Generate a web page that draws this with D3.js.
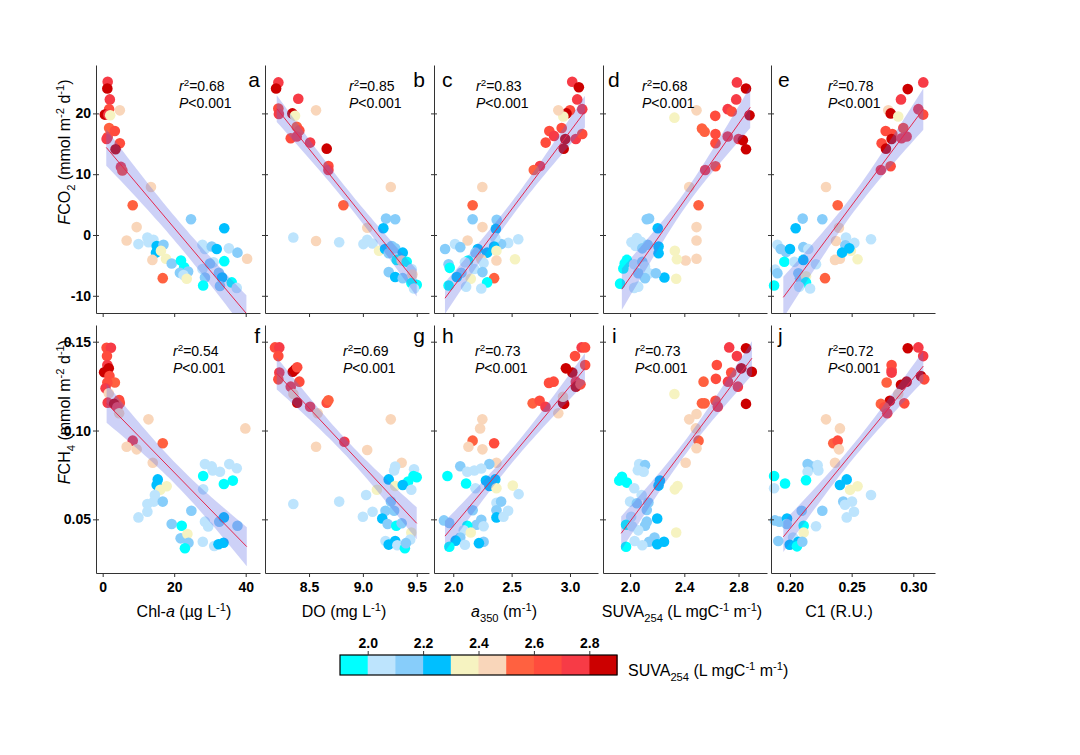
<!DOCTYPE html>
<html><head><meta charset="utf-8">
<script src="https://cdn.jsdelivr.net/npm/d3@7"></script>
<style>
body{margin:0;background:#fff}
text{font-family:Arial,"Liberation Sans",sans-serif;fill:#000}
</style></head>
<body><svg id="chart" width="1080" height="755"></svg>
<script>
// ---------- DATA ----------
// SUVA254 colour bins (1.9-2.9 in steps of 0.1)
const binEdges = [1.9,2.0,2.1,2.2,2.3,2.4,2.5,2.6,2.7,2.8,2.9];
const binColors = ["#00FFFF","#BDE4FD","#87CDFA","#00BFFF","#F6F3C1","#F9D6BA","#FF6140","#FF4C3D","#F73B46","#CC0000"];
const legendTickLabels = ["2.0","2.2","2.4","2.6","2.8"];
const panelLetters = ["a","b","c","d","e","f","g","h","i","j"];
const r2Values = ["0.68","0.85","0.83","0.68","0.78","0.54","0.69","0.73","0.73","0.72"];
const pLabel = "<0.001";
// regression fits
const fitSlope = [-0.697,-22.08,25.6,31.57,272.7,-0.002059,-0.06492,0.07873,0.10218,0.8467];
const fitIntercept = [15.1,201.85,-59.78,-70.12,-63.32,0.1176,0.6645,-0.1113,-0.1555,-0.1246];
const fitRange = [[1.0,40.2],[8.2,9.5],[1.929,3.128],[1.939,2.886],[0.1946,0.3081],
                  [1.1,40.3],[8.2,9.5],[1.929,3.128],[1.934,2.899],[0.1946,0.3081]];
// band half-width [centre, ends] in y units
const bandHW = [[2.0,3.0],[1.2,2.2],[1.2,2.6],[1.3,3.4],[1.5,3.4],
                [0.0060,0.0110],[0.0045,0.0090],[0.0040,0.0085],[0.0040,0.0095],[0.0040,0.0085]];
// axes
const xDomains = [[-1.87,44.0],[8.091,9.614],[1.835,3.24],[1.80,3.01],[0.1846,0.3176]];
const xTicks = [[0,20,40],[8.5,9.0,9.5],[2.0,2.5,3.0],[2.0,2.4,2.8],[0.20,0.25,0.30]];
const xTickLabels = [["0","20","40"],["8.5","9.0","9.5"],["2.0","2.5","3.0"],["2.0","2.4","2.8"],["0.20","0.25","0.30"]];
const yDomainCO2 = [-12.83,27.96];
const yTicksCO2 = [-10,0,10,20];
const yTickLabelsCO2 = ["-10","0","10","20"];
const yDomainCH4 = [0.0198,0.1594];
const yTicksCH4 = [0.05,0.10,0.15];
const yTickLabelsCH4 = ["0.05","0.10","0.15"];

// points [x, y, SUVA bin]
const dataA = [[1.4,25.2,8],[1.3,24.1,9],[2.0,22.3,8],[1.8,20.7,7],[0.6,19.8,9],[1.6,19.8,8],[4.8,20.5,5],[2.1,19.7,4],[1.8,17.6,6],[3.4,17.1,7],[1.4,16.1,7],[1.1,15.8,8],[4.8,15.1,7],[3.6,14.1,9],[5.1,11.2,8],[5.5,10.6,7],
[13.5,7.9,5],[8.4,4.9,6],[9.5,1.3,5],[6.7,-0.9,5],[10.0,-1.5,1],[12.5,-0.4,1],[14.2,-0.8,1],[12.8,-1.2,1],[15.1,-1.8,3],[17.0,-1.6,2],[14.9,-2.9,3],[16.3,-2.6,4],[17.7,-3.9,4],[13.9,-4.1,5],[19.3,-4.7,2],[16.8,-7.1,6],[24.7,2.6,2],[21.9,-4.2,0],[22.8,-5.3,0],[21.6,-6.2,2],[23.9,-6.0,2],[22.6,-6.6,1],[23.5,-7.2,4],[27.9,-1.6,1],[28.6,-2.3,1],[30.5,-1.9,2],[31.9,-2.3,3],[35.3,-2.2,1],[37.7,-2.9,2],[40.4,-3.9,5],[34.0,1.1,3],[34.0,-4.3,0],[27.9,-5.6,1],[31.0,-4.5,1],[30.0,-4.7,2],[28.6,-7.0,2],[28.1,-8.3,0],[32.5,-6.2,2],[33.4,-7.0,3],[36.1,-7.8,0],[32.8,-8.4,2],[37.5,-8.7,1]];
const dataB = [[8.215,25.1,8],[8.194,24.1,9],[8.40,22.4,8],[8.215,20.8,7],[8.22,19.9,8],[8.345,20.0,9],[8.37,19.6,4],[8.565,20.5,5],[8.386,17.8,6],[8.41,17.2,7],[8.33,15.9,7],[8.386,16.2,8],[8.51,15.2,8],[8.664,14.2,9],[8.68,11.35,7],[8.68,10.7,8],[8.819,4.9,6],[9.259,7.9,5],[9.215,2.7,2],[9.30,2.6,2],[9.19,1.1,3],[9.041,1.2,5],[8.354,-0.4,1],[8.565,-1.0,5],[8.78,-1.2,1],[9.005,-1.5,1],[9.04,-0.8,1],[9.09,-1.4,1],[9.15,-2.6,4],[9.206,-2.3,3],[9.268,-1.8,2],[9.30,-2.2,2],[9.24,-3.0,2],[9.37,-2.9,3],[9.314,-4.1,0],[9.36,-4.2,5],[9.407,-4.4,0],[9.453,-5.6,1],[9.24,-6.1,2],[9.30,-6.9,3],[9.37,-7.1,2],[9.46,-6.5,5],[9.45,-7.9,0],[9.50,-8.2,0],[9.475,-8.8,1]];
const dataC = [[3.019,25.2,8],[3.076,24.3,9],[3.062,22.3,8],[3.105,20.7,8],[3.0,20.5,7],[2.97,20.0,9],[2.943,19.5,4],[2.90,20.5,5],[2.823,17.1,7],[2.863,16.3,8],[2.929,17.6,7],[2.792,15.2,7],[2.96,15.8,9],[2.946,14.2,9],[3.05,15.8,8],[3.105,16.6,7],[2.743,11.35,8],[2.69,10.7,6],[2.249,7.9,5],[2.166,4.9,6],[2.166,2.6,2],[2.25,1.3,5],[2.372,2.5,2],[2.365,1.0,3],[2.557,-0.7,1],[2.471,-1.3,1],[2.41,-1.5,2],[2.36,-0.5,1],[2.123,-0.9,5],[2.015,-1.5,1],[2.06,-2.0,2],[1.93,-2.3,2],[2.21,-2.3,3],[2.29,-2.9,3],[2.35,-1.9,3],[2.37,-2.6,4],[2.19,-2.9,2],[2.24,-4.0,5],[2.37,-4.2,5],[2.529,-4.0,4],[2.127,-4.2,0],[2.10,-4.5,1],[1.96,-4.8,2],[1.97,-5.4,0],[2.26,-4.6,1],[2.18,-5.6,1],[2.25,-6.1,2],[2.07,-6.2,2],[2.03,-6.9,3],[2.15,-7.2,4],[2.35,-7.1,6],[2.29,-7.8,0],[1.96,-8.3,0],[2.11,-8.5,1],[2.24,-8.8,1]];
const dataD = [[2.788,25.1,8],[2.855,24.1,9],[2.783,22.3,8],[2.72,20.7,8],[2.75,20.3,7],[2.881,19.7,9],[2.628,19.6,7],[2.49,20.5,5],[2.327,19.3,4],[2.53,17.5,6],[2.55,17.0,6],[2.63,16.6,7],[2.63,15.1,7],[2.72,16.2,8],[2.80,15.8,8],[2.832,15.6,9],[2.855,14.1,9],[2.554,10.7,8],[2.63,11.3,7],[2.436,7.9,5],[2.505,4.9,6],[2.49,1.3,5],[2.49,-0.9,5],[2.49,-3.9,5],[2.41,-4.2,5],[2.345,-4.0,4],[2.33,-2.6,4],[2.34,-7.2,4],[2.123,2.6,2],[2.14,2.7,2],[2.204,1.1,3],[2.21,-1.9,3],[2.21,-3.0,3],[2.253,-7.0,3],[2.049,-0.5,1],[2.01,-1.2,1],[2.08,-1.1,1],[2.04,-1.8,1],[2.09,-2.2,2],[2.13,-1.6,2],[1.976,-4.1,0],[1.96,-4.7,0],[1.95,-5.5,0],[2.03,-4.8,1],[2.09,-4.4,2],[2.11,-5.2,1],[2.06,-6.3,2],[2.14,-6.3,1],[2.19,-6.3,2],[2.11,-7.1,2],[1.926,-8.0,0],[2.03,-8.7,1],[2.06,-8.5,1]];
const dataE = [[0.3081,25.1,8],[0.2955,24.0,9],[0.290,22.3,8],[0.3041,20.7,8],[0.308,19.8,7],[0.2797,20.5,5],[0.2817,20.0,9],[0.2878,19.5,4],[0.2776,17.1,7],[0.283,16.6,7],[0.2743,15.1,7],[0.2824,15.8,9],[0.2919,17.6,7],[0.2905,15.9,8],[0.2946,16.2,8],[0.2778,14.2,9],[0.2737,10.7,8],[0.2816,11.3,7],[0.2292,7.9,5],[0.2387,4.9,6],[0.2397,1.2,5],[0.2373,-1.0,5],[0.2365,-4.1,5],[0.2405,-3.9,5],[0.2494,-2.6,4],[0.2548,-4.0,4],[0.2103,2.7,2],[0.2262,2.6,2],[0.2046,1.1,3],[0.2454,-0.4,1],[0.2522,-1.3,1],[0.2657,-0.7,1],[0.2449,-1.7,2],[0.2481,-2.2,3],[0.2422,-2.9,3],[0.1898,-1.6,1],[0.1925,-2.3,2],[0.1968,-2.8,2],[0.2,-2.3,3],[0.2108,-2.0,2],[0.2149,-2.3,1],[0.1954,-4.4,0],[0.2035,-4.4,1],[0.2108,-4.1,3],[0.2211,-4.8,1],[0.188,-5.7,1],[0.1898,-6.3,2],[0.2068,-6.3,2],[0.2081,-7.1,2],[0.2130,-6.8,4],[0.2284,-7.1,6],[0.213,-7.8,0],[0.1871,-8.3,0],[0.2074,-8.5,1],[0.2163,-8.8,1]];
const dataF = [[1.1,0.1466,7],[2.3,0.1466,8],[1.2,0.1419,7],[1.3,0.1369,8],[0.4,0.1328,9],[1.7,0.135,9],[1.9,0.1307,7],[3.4,0.127,6],[1.3,0.127,7],[0.8,0.1238,8],[1.7,0.121,5],[1.4,0.1157,8],[4.6,0.1172,7],[4.8,0.1155,7],[3.2,0.115,9],[4.1,0.1131,8],[4.6,0.1097,5],[12.8,0.1063,5],[39.9,0.1012,5],[8.4,0.0943,8],[6.7,0.0909,5],[9.5,0.0894,5],[16.8,0.0928,6],[14.0,0.0819,5],[28.6,0.0811,1],[30.5,0.0798,1],[30.8,0.0775,1],[32.8,0.0768,1],[35.4,0.0811,1],[37.5,0.0788,1],[28.1,0.0744,0],[33.9,0.0699,0],[36.4,0.0718,0],[28.1,0.0669,1],[15.4,0.0725,3],[15.1,0.0693,3],[16.1,0.0667,4],[17.9,0.0686,4],[14.6,0.0637,1],[12.5,0.0586,1],[14.3,0.06,1],[16.8,0.06,2],[12.5,0.0543,1],[10.0,0.0511,1],[24.8,0.0548,2],[19.3,0.0474,2],[22.1,0.0464,0],[28.6,0.0487,1],[29.5,0.046,1],[32.6,0.0487,2],[33.9,0.0511,3],[37.7,0.0464,2],[21.8,0.0393,2],[23.7,0.0417,4],[24.0,0.0368,2],[23.0,0.0337,0],[28.0,0.0374,1],[31.2,0.035,1],[32.4,0.036,3],[33.8,0.0368,3]];
const dataG = [[8.184,0.1468,7],[8.224,0.1468,8],[8.215,0.1419,7],[8.349,0.1331,9],[8.37,0.1343,9],[8.39,0.1356,7],[8.224,0.1326,8],[8.215,0.1288,7],[8.41,0.1275,7],[8.33,0.1247,8],[8.355,0.1206,5],[8.39,0.1157,9],[8.51,0.1134,8],[8.58,0.1097,5],[8.664,0.1157,7],[8.68,0.117,6],[9.259,0.1063,5],[8.828,0.0937,8],[8.565,0.0909,5],[9.04,0.089,5],[9.36,0.0819,5],[9.30,0.0797,1],[9.29,0.0775,1],[9.475,0.0782,1],[9.47,0.0744,0],[9.50,0.0737,0],[9.42,0.0713,0],[9.24,0.0725,3],[9.30,0.0688,4],[9.37,0.0693,3],[9.45,0.0667,1],[9.13,0.0667,4],[9.03,0.0637,1],[8.354,0.0586,1],[8.78,0.06,1],[9.26,0.06,2],[9.09,0.0543,1],[9.21,0.0548,2],[9.29,0.0548,2],[9.0,0.0515,1],[9.18,0.0505,3],[9.23,0.0474,2],[9.31,0.0464,0],[9.36,0.0478,2],[9.45,0.0426,4],[9.44,0.0386,1],[9.21,0.0378,1],[9.24,0.0358,3],[9.30,0.0378,3],[9.32,0.0354,1],[9.39,0.0337,0],[9.40,0.0366,2]];
const dataH = [[3.10,0.1468,8],[3.129,0.1468,7],[3.043,0.1419,7],[2.965,0.135,9],[3.02,0.1326,9],[3.13,0.1369,7],[3.05,0.1275,8],[3.05,0.1247,9],[3.09,0.126,7],[2.82,0.1268,7],[2.86,0.1275,7],[2.68,0.1153,6],[2.74,0.1168,7],[2.79,0.1134,8],[2.94,0.1157,9],[2.95,0.115,9],[2.90,0.1097,5],[2.94,0.119,5],[2.249,0.1063,5],[2.23,0.1012,5],[2.166,0.0943,6],[2.13,0.0909,5],[2.25,0.0894,5],[2.35,0.0928,7],[2.37,0.0819,5],[2.309,0.0811,2],[2.06,0.0799,2],[2.12,0.0768,1],[2.18,0.0775,1],[2.24,0.0786,1],[1.95,0.0744,0],[2.28,0.0718,3],[2.36,0.0725,3],[2.11,0.0702,0],[2.31,0.0688,3],[2.37,0.0675,4],[2.51,0.069,4],[2.19,0.0675,1],[2.56,0.0642,1],[2.37,0.0593,1],[2.41,0.06,2],[2.47,0.0548,1],[2.37,0.0551,2],[2.166,0.0551,2],[2.37,0.0511,3],[2.43,0.0515,1],[1.92,0.0494,2],[1.966,0.048,2],[2.24,0.0498,2],[2.2,0.047,2],[2.12,0.0464,0],[2.26,0.0461,1],[2.09,0.0438,1],[2.15,0.0426,4],[2.06,0.0398,2],[2.02,0.038,3],[2.26,0.0374,2],[2.22,0.0366,3],[1.966,0.0346,0],[2.10,0.0357,1]];
const dataI = [[2.731,0.1468,8],[2.855,0.1463,9],[2.788,0.1419,8],[2.82,0.135,9],[2.898,0.1331,9],[2.64,0.1369,7],[2.746,0.1326,7],[2.633,0.1291,7],[2.542,0.1275,6],[2.722,0.1275,8],[2.795,0.1247,8],[2.327,0.1206,4],[2.53,0.1153,6],[2.55,0.1153,6],[2.63,0.1168,7],[2.647,0.1134,8],[2.855,0.115,9],[2.436,0.1063,5],[2.49,0.1093,5],[2.485,0.1012,5],[2.505,0.0943,6],[2.49,0.09,5],[2.41,0.0819,5],[2.067,0.0811,1],[2.11,0.0805,2],[2.057,0.0777,1],[2.10,0.0768,1],[1.94,0.074,0],[1.976,0.0707,0],[1.92,0.0718,0],[2.22,0.0718,3],[2.21,0.069,3],[2.35,0.0688,4],[2.33,0.0669,4],[2.03,0.0675,1],[2.085,0.0637,1],[2.0,0.06,1],[2.05,0.0591,2],[2.135,0.0595,2],[2.123,0.0553,2],[2.008,0.0515,1],[2.20,0.0505,3],[2.123,0.0487,2],[2.11,0.0464,2],[1.97,0.047,0],[2.015,0.0461,1],[2.06,0.0438,1],[2.34,0.0426,4],[2.18,0.0398,2],[2.14,0.0374,2],[2.20,0.036,3],[2.25,0.0374,3],[2.033,0.0378,1],[2.09,0.0354,1],[1.97,0.0346,0]];
const dataJ = [[0.2955,0.1463,9],[0.3041,0.1468,8],[0.308,0.1419,8],[0.2824,0.1369,7],[0.2824,0.134,7],[0.2824,0.1326,8],[0.3062,0.1307,9],[0.3089,0.1288,7],[0.2946,0.1275,9],[0.29,0.1257,9],[0.2784,0.127,6],[0.2878,0.1206,5],[0.281,0.1168,9],[0.2737,0.115,6],[0.2765,0.1131,7],[0.2927,0.1153,7],[0.2789,0.1097,8],[0.2292,0.1063,5],[0.2405,0.1012,5],[0.2351,0.0928,6],[0.2387,0.0943,7],[0.2397,0.0894,5],[0.2365,0.0819,5],[0.2143,0.0811,2],[0.2181,0.0797,2],[0.2224,0.0805,1],[0.2143,0.0768,1],[0.2230,0.0775,1],[0.1871,0.0744,0],[0.196,0.0702,0],[0.213,0.072,0],[0.1871,0.0675,1],[0.2460,0.0725,3],[0.2405,0.0693,3],[0.2487,0.0667,4],[0.2548,0.0686,4],[0.2657,0.0637,1],[0.2432,0.06,2],[0.2503,0.06,1],[0.2446,0.0582,1],[0.2519,0.0543,1],[0.2262,0.0548,2],[0.2095,0.0548,2],[0.2460,0.0511,1],[0.1878,0.0494,2],[0.1914,0.0487,2],[0.1976,0.0505,3],[0.1973,0.0474,2],[0.2111,0.0464,0],[0.2211,0.0461,1],[0.2111,0.0426,4],[0.1905,0.0378,2],[0.2025,0.0398,1],[0.1998,0.0357,3],[0.2068,0.0374,3],[0.2057,0.0348,0],[0.2100,0.0374,2]];
const panelData = [dataA,dataB,dataC,dataD,dataE,dataF,dataG,dataH,dataI,dataJ];

// ---------- LAYOUT ----------
const colLeft = [96,265,434,603,771];
const panelW = 164;
const rowTop = [65,325];
const panelH = 248;
const statX = [[179,349,476,642,828],[173,343,475,635,828]];
const statY = [[91,108],[356,373]];
const letterPos = [[260,"end"],[425,"end"],[442,"start"],[608,"start"],[778,"start"]];
const letterPosB = [[260,"end"],[425,"end"],[442,"start"],[612,"start"],[778,"start"]];
const letterY = [87,343];

const svg = d3.select("#chart");
svg.append("rect").attr("width",1080).attr("height",755).attr("fill","#fff");

function richText(sel, segs, fs){
  let shift = 0;
  segs.forEach(s=>{
    const t = sel.append("tspan").text(s.t);
    let target = 0;
    if(s.sub){ t.attr("font-size",fs*0.7); target = fs*0.3; }
    else if(s.sup){ t.attr("font-size",fs*0.7); target = -fs*0.38; }
    if(target!==shift){ t.attr("dy", target-shift); shift = target; }
    if(s.it) t.attr("font-style","italic");
  });
}

const xTitleSegs = [
  [{t:"Chl-"},{t:"a",it:true},{t:" (\u00B5g L"},{t:"-1",sup:true},{t:")"}],
  [{t:"DO (mg L"},{t:"-1",sup:true},{t:")"}],
  [{t:"a",it:true},{t:"350",sub:true},{t:" (m"},{t:"-1",sup:true},{t:")"}],
  [{t:"SUVA"},{t:"254",sub:true},{t:" (L mgC"},{t:"-1",sup:true},{t:" m"},{t:"-1",sup:true},{t:")"}],
  [{t:"C1 (R.U.)"}]
];
const xTitleX = [184,344,504,682,839];

const axisColor = "#333";

for(let p=0;p<10;p++){
  const row = Math.floor(p/5), col = p%5;
  const L = colLeft[col], T = rowTop[row];
  const x = d3.scaleLinear().domain(xDomains[col]).range([L, L+panelW]);
  const y = d3.scaleLinear().domain(row===0?yDomainCO2:yDomainCH4).range([T+panelH, T]);
  const g = svg.append("g");
  const clipId = "clip"+p;
  svg.append("clipPath").attr("id",clipId).append("rect")
    .attr("x",L).attr("y",T).attr("width",panelW).attr("height",panelH);

  // points
  g.append("g").selectAll("circle").data(panelData[p]).join("circle")
    .attr("cx",d=>x(d[0])).attr("cy",d=>y(d[1])).attr("r",5.3)
    .attr("fill",d=>binColors[d[2]]);

  // confidence band
  const [x0,x1] = fitRange[p];
  const xm = (x0+x1)/2, half=(x1-x0)/2;
  const [hc,he] = bandHW[p];
  const xs = d3.range(0,41).map(i=>x0+(x1-x0)*i/40);
  const hw = xv => Math.sqrt(hc*hc + (he*he-hc*hc)*Math.pow((xv-xm)/half,2));
  const fit = xv => fitIntercept[p] + fitSlope[p]*xv;
  const cg = g.append("g").attr("clip-path","url(#"+clipId+")");
  cg.append("path").datum(xs)
    .attr("d", d3.area().x(d=>x(d)).y0(d=>y(fit(d)-hw(d))).y1(d=>y(fit(d)+hw(d))))
    .attr("fill","#5a68e6").attr("fill-opacity",0.3);
  cg.append("path").datum([x0,x1])
    .attr("d", d3.line().x(d=>x(d)).y(d=>y(fit(d))))
    .attr("stroke","#E4284E").attr("stroke-width",1).attr("fill","none");

  // axes
  const xa = g.append("g").attr("transform",`translate(0,${T+panelH})`)
    .call(d3.axisBottom(x).tickValues(xTicks[col]).tickSize(4).tickSizeOuter(0)
      .tickFormat((d,i)=> row===1 ? xTickLabels[col][i] : ""));
  const yTicks = row===0?yTicksCO2:yTicksCH4;
  const yLabels = row===0?yTickLabelsCO2:yTickLabelsCH4;
  const ya = g.append("g").attr("transform",`translate(${L},0)`)
    .call(d3.axisLeft(y).tickValues(yTicks).tickSize(3).tickSizeOuter(0)
      .tickFormat((d,i)=> col===0 ? yLabels[i] : ""));
  const yb = g.append("g").attr("transform",`translate(${L},0)`)
    .call(d3.axisRight(y).tickValues(yTicks).tickSize(3).tickSizeOuter(0).tickFormat(""));
  yb.select(".domain").remove();
  [xa,ya,yb].forEach(a=>{
    a.selectAll("path,line").attr("stroke",axisColor);
    a.selectAll("text").attr("font-size",14).attr("font-weight","bold").attr("fill","#000")
      .attr("font-family","Arial, 'Liberation Sans', sans-serif");
  });
  xa.selectAll("text").attr("dy","0.71em").attr("y",9);
  ya.selectAll("text").attr("x",-5);

  // stats
  const sx = statX[row][col];
  const t1 = g.append("text").attr("x",sx).attr("y",statY[row][0]).attr("font-size",14);
  richText(t1,[{t:"r",it:true},{t:"2",sup:true},{t:"="+r2Values[p]}],14);
  const t2 = g.append("text").attr("x",sx).attr("y",statY[row][1]).attr("font-size",14);
  richText(t2,[{t:"P",it:true},{t:pLabel}],14);

  // letter
  const lp = row===0?letterPos[col]:letterPosB[col];
  g.append("text").attr("x",lp[0]).attr("y",letterY[row]).attr("text-anchor",lp[1])
    .attr("font-size",21).text(panelLetters[p]);

  // x titles
  if(row===1){
    const tt = g.append("text").attr("x",xTitleX[col]).attr("y",617).attr("text-anchor","middle").attr("font-size",16);
    richText(tt, xTitleSegs[col], 16);
  }
}

// y titles
const yTitleCO2 = [{t:"F",it:true},{t:"CO"},{t:"2",sub:true},{t:" (mmol m"},{t:"-2",sup:true},{t:" d"},{t:"-1",sup:true},{t:")"}];
const yTitleCH4 = [{t:"F",it:true},{t:"CH"},{t:"4",sub:true},{t:" (mmol m"},{t:"-2",sup:true},{t:" d"},{t:"-1",sup:true},{t:")"}];
const yt1 = svg.append("text").attr("transform","translate(70,152) rotate(-90)").attr("text-anchor","middle").attr("font-size",16);
richText(yt1, yTitleCO2, 16);
const yt2 = svg.append("text").attr("transform","translate(70,412) rotate(-90)").attr("text-anchor","middle").attr("font-size",16);
richText(yt2, yTitleCH4, 16);

// colour legend
const lg = svg.append("g");
const lx = d3.scaleLinear().domain([binEdges[0],binEdges[binEdges.length-1]]).range([340,617]);
const barY = 655, barH = 20;
lg.selectAll("rect.bin").data(binColors).join("rect").attr("class","bin")
  .attr("x",(d,i)=>lx(binEdges[i])).attr("width",(d,i)=>lx(binEdges[i+1])-lx(binEdges[i])+0.5)
  .attr("y",barY).attr("height",barH).attr("fill",d=>d);
lg.append("rect").attr("x",lx(binEdges[0])).attr("y",barY).attr("width",lx(binEdges[10])-lx(binEdges[0]))
  .attr("height",barH).attr("fill","none").attr("stroke","#000").attr("stroke-width",1.2);
const legendTickVals = legendTickLabels.map(Number);
const la = lg.append("g").attr("transform",`translate(0,${barY})`)
  .call(d3.axisTop(lx).tickValues(legendTickVals).tickSize(4).tickSizeOuter(0).tickFormat((d,i)=>legendTickLabels[i]));
la.select(".domain").remove();
la.selectAll("line").attr("stroke","#333");
la.selectAll("text").attr("font-size",14).attr("font-weight","bold").attr("fill","#000")
  .attr("font-family","Arial, 'Liberation Sans', sans-serif");
const lt = lg.append("text").attr("x",628).attr("y",676).attr("font-size",16);
richText(lt,[{t:"SUVA"},{t:"254",sub:true},{t:" (L mgC"},{t:"-1",sup:true},{t:" m"},{t:"-1",sup:true},{t:")"}],16);
</script></body></html>
